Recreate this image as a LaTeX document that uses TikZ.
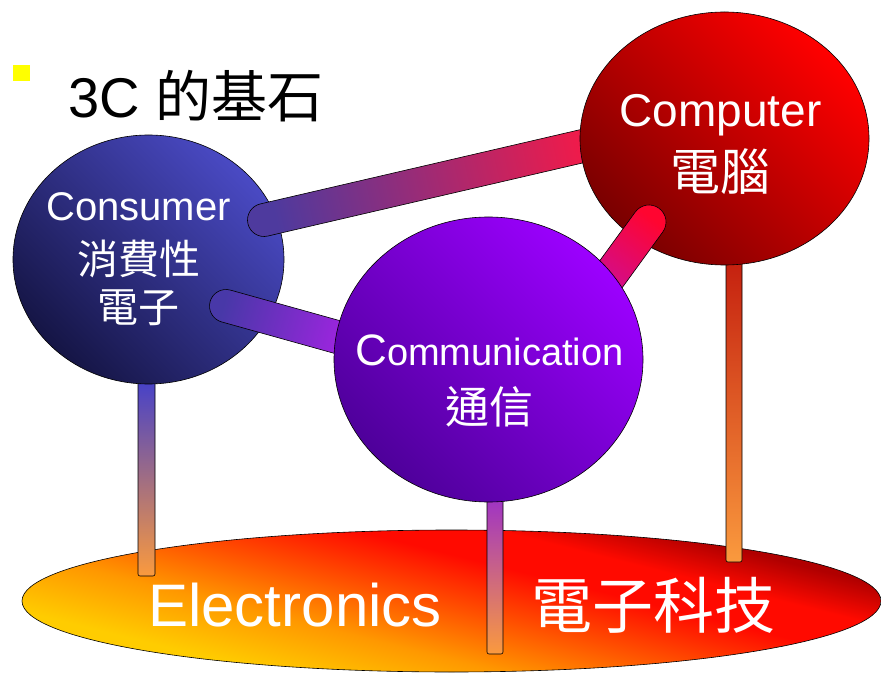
\documentclass[tikz,border=0pt]{standalone}
\usepackage{fontspec}
\setmainfont{Liberation Sans}
\newfontfamily\cjk{Noto Sans CJK TC}
\usetikzlibrary{calc,shapes.geometric}
\definecolor{bulletY}{HTML}{FFFF00}
\definecolor{conD}{HTML}{151545}
\definecolor{conL}{HTML}{4A4AC4}
\definecolor{comD}{HTML}{7A0000}
\definecolor{comL}{HTML}{FF0000}
\definecolor{cmmD}{HTML}{4E009A}
\definecolor{cmmL}{HTML}{9C00FF}
\definecolor{eY}{HTML}{FFCC00}
\definecolor{eO}{HTML}{FF9800}
\definecolor{eM}{HTML}{FF5000}
\definecolor{eR}{HTML}{FF0A00}
\definecolor{eD}{HTML}{B00000}
\definecolor{rodBlue}{HTML}{3C3CD0}
\definecolor{rodPurple}{HTML}{9A2ECC}
\definecolor{rodRed}{HTML}{C41E0E}
\definecolor{rodOrange}{HTML}{FA9A3E}
\definecolor{tubeA1}{HTML}{4E3A9E}
\definecolor{tubeB1}{HTML}{F41A48}
\definecolor{tubeA2}{HTML}{4838A8}
\definecolor{tubeB2}{HTML}{BA1EF2}
\definecolor{tubeA3}{HTML}{FF0530}
\definecolor{tubeB3}{HTML}{C010B0}
\pgfdeclareverticalshading{elecshade}{100bp}{color(0bp)=(eY); color(30bp)=(eY); color(40bp)=(eO); color(49bp)=(eM); color(58bp)=(eR); color(64bp)=(eR); color(71bp)=(eD); color(100bp)=(eD)}
\tikzset{
  ball/.style={ellipse, draw=black, line width=0.6pt, inner sep=0pt},
  rodbar/.style={draw=black, line width=0.6pt, rounded corners=2pt},
  tubestyle/.style={draw=black, line width=0.6pt},
  whitetxt/.style={text=white, inner sep=0pt},
}
\newcommand\tube[6]{%
  \draw[tubestyle, bottom color=#4, top color=#5, shading angle=#6]
    let \p1=($(#2)-(#1)$), \n1={atan2(\y1,\x1)} in
    ($(#1)!#3!-90:(#2)$) -- ($(#2)!#3!90:(#1)$)
    arc[start angle=\n1-90, end angle=\n1+90, radius=#3]
    -- ($(#1)!#3!90:(#2)$)
    arc[start angle=\n1+90, end angle=\n1+270, radius=#3] -- cycle;
}
\begin{document}
\begin{tikzpicture}[x=1pt,y=1pt]
\useasboundingbox (0,0) rectangle (881,673);
% bullet and title
\node[fill=bulletY, minimum width=17pt, minimum height=16pt, inner sep=0pt] (bullet) at (21.5,600) {};
\node[anchor=base west, inner sep=0pt, font=\fontsize{56}{60}\selectfont] (title) at (68,555) {3C {\cjk 的基石}};
% base ellipse
\node[ball, minimum width=859pt, minimum height=142pt, shading=elecshade, shading angle=-14] (base) at (451.5,72) {};
% rods
\coordinate (r1t) at (146.5,303); \coordinate (r1b) at (146.5,97);
\coordinate (r2t) at (495,183);   \coordinate (r2b) at (495,19);
\coordinate (r3t) at (734,418);   \coordinate (r3b) at (734,111);
\draw[rodbar, bottom color=rodOrange, top color=rodBlue] ($(r1b)+(-8.5,0)$) rectangle ($(r1t)+(8.5,0)$);
\draw[rodbar, bottom color=rodOrange, top color=rodPurple] ($(r2b)+(-8,0)$) rectangle ($(r2t)+(8,0)$);
\draw[rodbar, bottom color=rodOrange, top color=rodRed] ($(r3b)+(-8,0)$) rectangle ($(r3t)+(8,0)$);
% consumer ball
\node[ball, minimum width=271pt, minimum height=249pt, bottom color=conD, top color=conL, shading angle=-45] (consumer) at (148.5,413.5) {};
% tube consumer - computer
\coordinate (t1a) at (264,453); \coordinate (t1b) at (600,531);
\tube{t1a}{t1b}{16.5pt}{tubeA1}{tubeB1}{-76.9}
% computer ball
\node[ball, minimum width=289pt, minimum height=253pt, bottom color=comD, top color=comL, shading angle=-45] (computer) at (724.5,534.5) {};
% tube consumer - communication
\coordinate (t2a) at (226,367); \coordinate (t2b) at (380,324);
\tube{t2a}{t2b}{16.5pt}{tubeA2}{tubeB2}{-105.6}
% tube communication - computer
\coordinate (t3a) at (649,451); \coordinate (t3b) at (590,370);
\tube{t3a}{t3b}{17pt}{tubeA3}{tubeB3}{143.9}
% communication ball
\node[ball, minimum width=309pt, minimum height=285pt, bottom color=cmmD, top color=cmmL, shading angle=-45] (communication) at (488.5,313.5) {};
% texts
\node[whitetxt, anchor=base, font=\fontsize{40}{44}\selectfont] (consumerEn) at (138.5,452) {Consumer};
\node[whitetxt, font=\fontsize{41}{45}\selectfont\cjk] (consumerZh1) at (139,414) {消費性};
\node[whitetxt, font=\fontsize{41}{45}\selectfont\cjk] (consumerZh2) at (138,365.5) {電子};
\node[whitetxt, anchor=base, font=\fontsize{46}{50}\selectfont] (computerEn) at (720.5,546) {Computer};
\node[whitetxt, font=\fontsize{50}{54}\selectfont\cjk] (computerZh) at (720,501) {電腦};
\node[whitetxt, anchor=base, font=\fontsize{38}{42}\selectfont] (communicationEn) at (489.5,308) {{\fontsize{44}{48}\selectfont C}ommunication};
\node[whitetxt, font=\fontsize{44}{48}\selectfont\cjk] (communicationZh) at (489,266.5) {通信};
\node[whitetxt, anchor=base, font=\fontsize{60}{64}\selectfont] (electronicsEn) at (295,47) {Electronics};
\node[whitetxt, font=\fontsize{61}{65}\selectfont\cjk] (electronicsZh) at (653.5,68) {電子科技};
\end{tikzpicture}
\end{document}
